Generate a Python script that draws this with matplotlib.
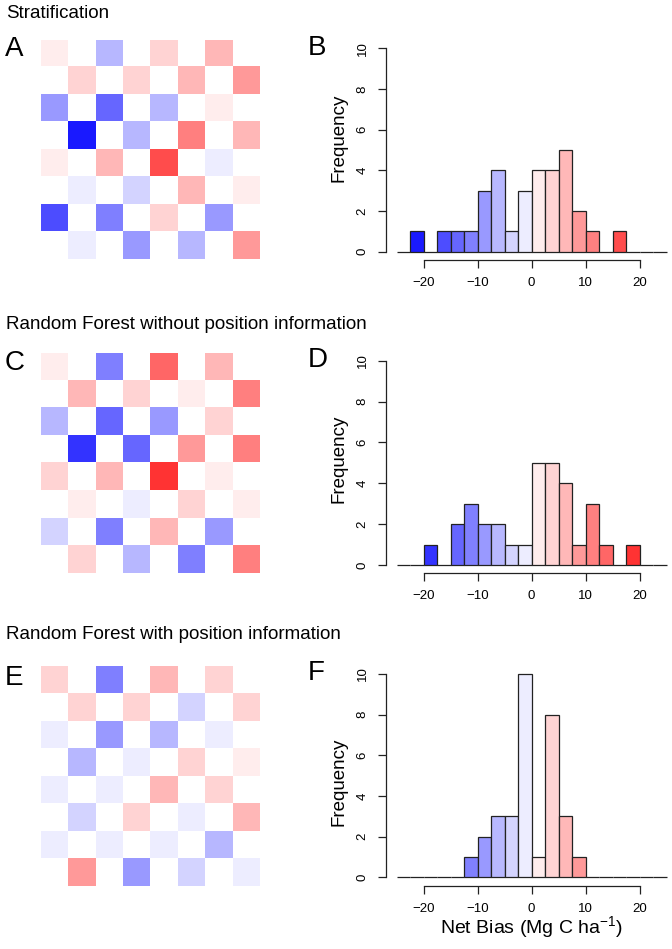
import numpy as np
import matplotlib.pyplot as plt
from matplotlib.colors import ListedColormap, BoundaryNorm

plt.rcParams['font.family'] = ['Liberation Sans', 'DejaVu Sans']
plt.rcParams['mathtext.default'] = 'regular'

W, H = 672, 949

# net bias of the 32 checkerboard cells, row by row (4 filled cells per row)
strat = [[1.1, -6.2, 3.4, 6.1],
         [4.3, 3.2, 6.8, 8.6],
         [-8.4, -13.6, -5.8, 0.7],
         [-21.3, -6.6, 11.2, 5.6],
         [1.6, 6.4, 16.1, -1.2],
         [-0.8, -3.7, 7.1, 2.0],
         [-16.2, -11.4, 4.6, -9.1],
         [-1.9, -7.9, -5.3, 9.2]]

rf_nopos = [[1.3, -11.1, 13.8, 6.3],
            [5.9, 3.6, 0.9, 11.4],
            [-6.4, -13.2, -8.8, 4.1],
            [-18.6, -14.1, 8.7, 10.6],
            [3.0, 6.9, 18.4, 1.8],
            [0.4, -1.4, 4.7, 2.2],
            [-3.3, -10.7, 5.4, -9.4],
            [2.7, -5.9, -11.8, 11.9]]

rf_pos = [[3.3, -10.6, 5.8, 3.9],
          [4.4, 2.9, -3.1, 3.6],
          [-1.1, -8.2, -6.0, -0.6],
          [-7.1, -1.7, 4.2, 1.4],
          [-0.9, -2.1, 6.6, 3.1],
          [-4.4, 4.8, -0.3, 7.0],
          [-1.5, -0.7, -2.3, -5.5],
          [8.1, -9.6, -2.8, -1.3]]

titles = ['Stratification',
          'Random Forest without position information',
          'Random Forest with position information']
letters = [('A', 'B'), ('C', 'D'), ('E', 'F')]

# layout in pixels: heatmap top/bottom, hist plot top/bottom, title baseline,
# letter baselines, Frequency label centre
rows = [dict(ht=40, hb=259, pt=40.2, pb=259.8, tb=17.5, la=56, lb=55, fy=138),
        dict(ht=353, hb=573, pt=352.5, pb=573.2, tb=329, la=370, lb=367, fy=459),
        dict(ht=666, hb=886, pt=665.9, pb=885.5, tb=639, la=685, lb=680, fy=782)]

bins = np.arange(-25, 25.1, 2.5)
shades = [0, .1, .2, .3, .4, .5, .6, .72, .83, .93]
cmap = ListedColormap([(s, s, 1) for s in shades] + [(1, s, s) for s in shades[::-1]])
cmap.set_bad(alpha=0)
norm = BoundaryNorm(bins, cmap.N)


def rect(l, t, r, b):
    return [l / W, 1 - b / H, (r - l) / W, (b - t) / H]


def checker(cells):
    grid = np.full((8, 8), np.nan)
    for i, vals in enumerate(cells):
        grid[i, i % 2::2] = vals
    return np.ma.masked_invalid(grid)


fig = plt.figure(figsize=(W / 100, H / 100), dpi=100)
axcol = '#222222'

for cells, title, (la, lb), r in zip([strat, rf_nopos, rf_pos], titles, letters, rows):
    fig.text(6 / W, 1 - r['tb'] / H, title, fontsize=13.5, va='baseline', ha='left')
    fig.text(5 / W, 1 - r['la'] / H, la, fontsize=20, va='baseline', ha='left')
    fig.text(308 / W, 1 - r['lb'] / H, lb, fontsize=20, va='baseline', ha='left')

    # checkerboard map
    ax = fig.add_axes(rect(41, r['ht'], 260, r['hb']))
    ax.imshow(checker(cells), cmap=cmap, norm=norm, interpolation='nearest', aspect='auto')
    ax.axis('off')

    # histogram
    vals = np.ravel(cells)
    ax = fig.add_axes(rect(385.7, r['pt'], 671.9, r['pb']))
    n, edges, patches = ax.hist(vals, bins=bins, edgecolor=axcol, linewidth=0.9)
    for p, lo in zip(patches, edges[:-1]):
        p.set_facecolor(cmap(norm(lo + 1.25)))
    ax.set_xlim(-27, 26)
    ax.set_ylim(-0.4, 10.4)
    for s in ['top', 'right']:
        ax.spines[s].set_visible(False)
    ax.spines['left'].set_bounds(0, 10)
    ax.spines['bottom'].set_bounds(-20, 20)
    for s in ['left', 'bottom']:
        ax.spines[s].set_color(axcol)
        ax.spines[s].set_linewidth(0.9)
    ax.set_xticks([-20, -10, 0, 10, 20])
    ax.set_yticks(range(0, 11, 2))
    ax.set_yticklabels([str(v) for v in range(0, 11, 2)], rotation=90, va='center')
    ax.tick_params(length=5.8, width=0.9, color=axcol, pad=6.5, labelsize=9.5)
    ax.patch.set_alpha(0)
    fig.text(339 / W, 1 - r['fy'] / H, 'Frequency', rotation=90, fontsize=13.5,
             ha='center', va='center')

fig.text(531 / W, 1 - 927 / H, 'Net Bias (Mg C ha$^{-1}$)', fontsize=14,
         ha='center', va='center')

fig.savefig('out.png', dpi=100)
